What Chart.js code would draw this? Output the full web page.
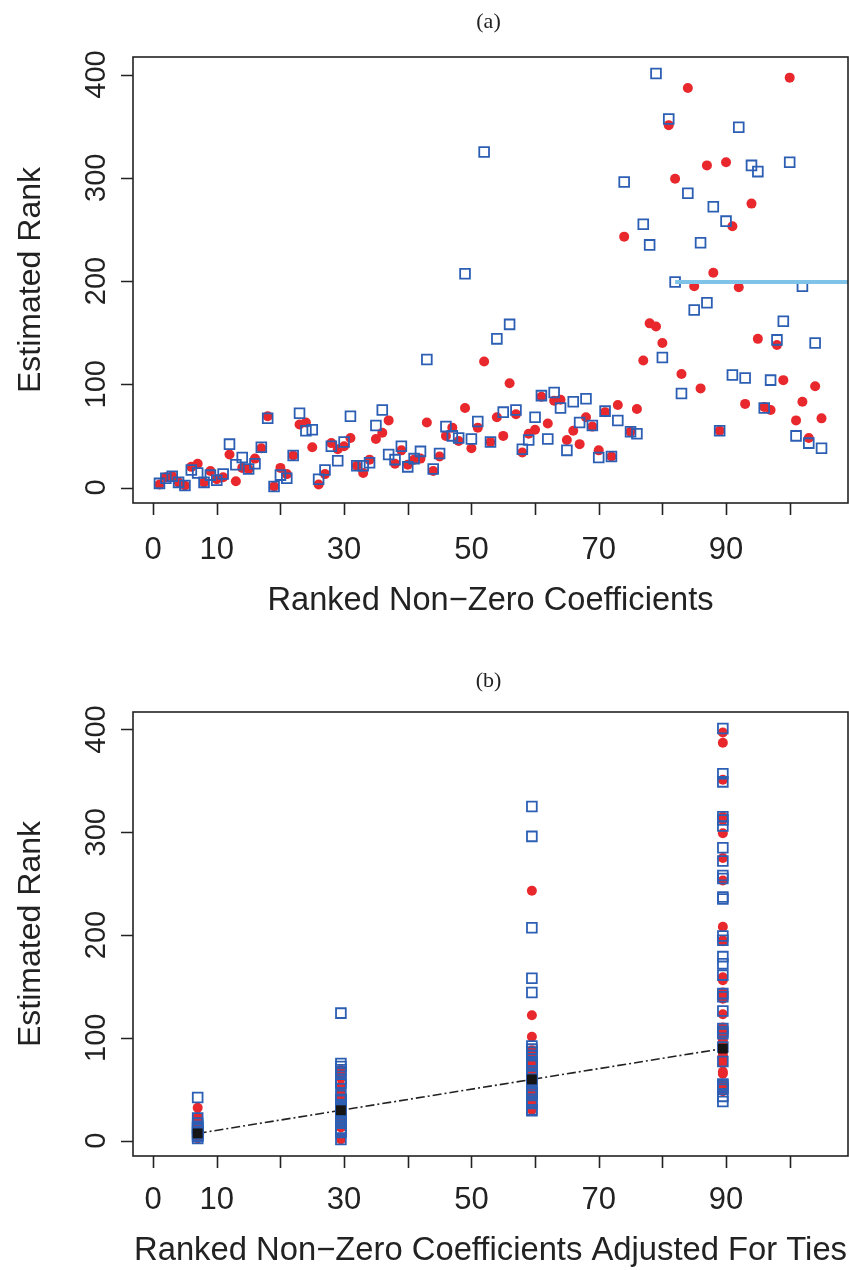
<!DOCTYPE html>
<html>
<head>
<meta charset="utf-8">
<script src="https://cdn.jsdelivr.net/npm/chart.js@4.4.0/dist/chart.umd.min.js"></script>
<style>
  html, body { margin: 0; padding: 0; background: #fff; }
  #wrap { position: relative; width: 849px; height: 1270px; overflow: hidden; }
  .panel { position: absolute; left: 0; width: 849px; }
  #pa { top: 0; height: 640px; }
  #pb { top: 640px; height: 630px; }
</style>
</head>
<body>
<div id="wrap">
  <div class="panel" id="pa"><canvas id="chartA" width="849" height="640"></canvas></div>
  <div class="panel" id="pb"><canvas id="chartB" width="849" height="630"></canvas></div>
</div>
<script>
// true rank of each non-zero coefficient
const ranks = [1, 2, 3, 4, 5, 6, 7, 8, 9, 10, 11, 12, 13, 14, 15, 16, 17, 18, 19, 20,
  21, 22, 23, 24, 25, 26, 27, 28, 29, 30, 31, 32, 33, 34, 35, 36, 37, 38, 39, 40,
  41, 42, 43, 44, 45, 46, 47, 48, 49, 50, 51, 52, 53, 54, 55, 56, 57, 58, 59, 60,
  61, 62, 63, 64, 65, 66, 67, 68, 69, 70, 71, 72, 73, 74, 75, 76, 77, 78, 79, 80,
  81, 82, 83, 84, 85, 86, 87, 88, 89, 90, 91, 92, 93, 94, 95, 96, 97, 98, 99, 100,
  101, 102, 103, 104, 105];

// estimated rank, red filled circles
const redRank = [3, 10, 11, 5, 2, 20, 23, 5, 16, 8, 10, 32, 6, 19, 18, 28, 38, 69, 1, 19,
  13, 31, 61, 63, 39, 3, 13, 43, 37, 40, 48, 21, 14, 27, 47, 53, 65, 23, 36, 22,
  27, 28, 63, 16, 30, 50, 58, 45, 77, 38, 58, 122, 44, 68, 50, 101, 71, 34, 52, 56,
  88, 62, 84, 85, 46, 55, 42, 68, 59, 36, 73, 30, 80, 243, 54, 76, 123, 159, 156, 140,
  351, 299, 110, 387, 195, 96, 312, 208, 55, 315, 253, 194, 81, 275, 144, 78, 75, 138, 104, 397,
  65, 83, 48, 98, 67];

// estimated rank, blue open squares
const blueRank = [4, 9, 11, 5, 2, 17, 14, 5, 12, 7, 13, 42, 22, 29, 18, 23, 39, 67, 1, 12,
  9, 31, 72, 55, 56, 8, 17, 40, 26, 44, 69, 21, 21, 24, 60, 75, 32, 27, 40, 20,
  28, 35, 124, 18, 33, 59, 50, 48, 207, 47, 64, 325, 44, 144, 73, 158, 75, 37, 46, 68,
  89, 47, 92, 77, 36, 83, 63, 86, 60, 29, 74, 30, 65, 296, 54, 52, 255, 235, 401, 126,
  357, 199, 91, 285, 172, 237, 179, 272, 55, 258, 109, 349, 106, 312, 306, 77, 104, 143, 161, 315,
  50, 195, 43, 140, 38];

// tie groups: last rank in each group and its adjusted (average) rank
const tieUpper = [13, 45, 74, 105];
const tieX = [7, 29.5, 59.5, 89.5];
const tieY = [7, 29.5, 59.5, 89.5];

// light blue band in panel (a)
const bandX = [82, 109.16];
const bandY = [199, 199];

const xTicks = [0, 10, 20, 30, 40, 50, 60, 70, 80, 90, 100];
const xTickLabels = [0, 10, 30, 50, 70, 90];
const yTicks = [0, 100, 200, 300, 400];

const RED = '#e8282c';
const BLUE = '#2c5fb4';
const FONT = '"Liberation Sans", Arial, Helvetica, sans-serif';

function tieOf(r) {
  for (let i = 0; i < tieUpper.length; i++) {
    if (r <= tieUpper[i]) return tieX[i];
  }
  return tieX[tieX.length - 1];
}

function pts(xs, ys) {
  return xs.map((x, i) => ({ x: x, y: ys[i] }));
}

function drawText(ctx, text, x, y, size, width, rotate) {
  ctx.save();
  ctx.translate(x, y);
  if (rotate) ctx.rotate(-Math.PI / 2);
  ctx.font = size + 'px ' + FONT;
  if (width) {
    const w = ctx.measureText(text).width;
    ctx.scale(width / w, 1);
  }
  ctx.fillText(text, 0, 0);
  ctx.restore();
}

// R style box, ticks and labels
const rAxes = {
  id: 'rAxes',
  afterDraw(chart, args, o) {
    const ctx = chart.ctx;
    const a = chart.chartArea;
    const xs = chart.scales.x, ys = chart.scales.y;
    ctx.save();
    ctx.strokeStyle = '#222';
    ctx.lineWidth = 1.6;
    ctx.strokeRect(a.left, a.top, a.right - a.left, a.bottom - a.top);
    ctx.beginPath();
    xTicks.forEach(v => {
      const px = Math.round(xs.getPixelForValue(v)) + 0.5;
      ctx.moveTo(px, a.bottom);
      ctx.lineTo(px, a.bottom + 12);
    });
    yTicks.forEach(v => {
      const py = Math.round(ys.getPixelForValue(v)) + 0.5;
      ctx.moveTo(a.left, py);
      ctx.lineTo(a.left - 12, py);
    });
    ctx.stroke();

    ctx.fillStyle = '#222';
    ctx.textAlign = 'center';
    ctx.textBaseline = 'middle';
    xTickLabels.forEach(v => {
      drawText(ctx, String(v), xs.getPixelForValue(v), o.xLabelY, 31, 0, false);
    });
    yTicks.forEach(v => {
      drawText(ctx, String(v), o.yLabelX, ys.getPixelForValue(v), 29, 0, true);
    });
    const cx = (a.left + a.right) / 2;
    const cy = (a.top + a.bottom) / 2;
    drawText(ctx, o.xTitle, cx, o.xTitleY, 33, o.xTitleW, false);
    drawText(ctx, 'Estimated Rank', o.yTitleX, cy, 32, 226, true);

    ctx.font = '22px "Liberation Serif", "Times New Roman", serif';
    ctx.fillText(o.panel, cx - 2, o.panelY);
    ctx.restore();
  }
};

const scalesCfg = {
  x: { type: 'linear', display: false, min: -3.16, max: 109.16 },
  y: { type: 'linear', display: false, min: -15, max: 417 }
};

const blueStyle = {
  type: 'scatter',
  pointStyle: 'rect',
  pointRadius: 6.9,
  backgroundColor: 'rgba(0,0,0,0)',
  borderColor: BLUE,
  borderWidth: 1.8,
  order: 1
};
const redStyle = {
  type: 'scatter',
  pointStyle: 'circle',
  pointRadius: 5,
  backgroundColor: RED,
  borderColor: RED,
  borderWidth: 0,
  order: 2
};

new Chart(document.getElementById('chartA'), {
  type: 'scatter',
  data: {
    datasets: [
      Object.assign({ data: pts(ranks, blueRank) }, blueStyle),
      Object.assign({ data: pts(ranks, redRank) }, redStyle),
      {
        type: 'line',
        data: pts(bandX, bandY),
        borderColor: '#7fc4e8',
        borderWidth: 4,
        pointRadius: 0,
        order: 0
      }
    ]
  },
  options: {
    responsive: false,
    animation: false,
    devicePixelRatio: 1,
    layout: { autoPadding: false, padding: { left: 133, right: 1, top: 57, bottom: 137 } },
    scales: scalesCfg,
    plugins: {
      legend: { display: false },
      tooltip: { enabled: false },
      rAxes: {
        panel: '(a)', panelY: 22,
        xLabelY: 550, xTitleY: 601, xTitle: 'Ranked Non\u2212Zero Coefficients', xTitleW: 446,
        yLabelX: 97, yTitleX: 31
      }
    }
  },
  plugins: [rAxes]
});

new Chart(document.getElementById('chartB'), {
  type: 'scatter',
  data: {
    datasets: [
      {
        type: 'scatter',
        data: pts(tieX, tieY),
        pointStyle: 'rect',
        pointRadius: 7,
        backgroundColor: '#151515',
        borderWidth: 0,
        order: 0
      },
      Object.assign({ data: pts(ranks.map(tieOf), blueRank) }, blueStyle),
      Object.assign({ data: pts(ranks.map(tieOf), redRank) }, redStyle),
      {
        type: 'line',
        data: pts(tieX, tieY),
        borderColor: '#222',
        borderWidth: 1.6,
        borderDash: [9, 3, 2, 3],
        pointRadius: 0,
        order: 3
      }
    ]
  },
  options: {
    responsive: false,
    animation: false,
    devicePixelRatio: 1,
    layout: { autoPadding: false, padding: { left: 133, right: 1, top: 72, bottom: 114 } },
    scales: scalesCfg,
    plugins: {
      legend: { display: false },
      tooltip: { enabled: false },
      rAxes: {
        panel: '(b)', panelY: 41,
        xLabelY: 560, xTitleY: 611, xTitle: 'Ranked Non\u2212Zero Coefficients Adjusted For Ties', xTitleW: 713,
        yLabelX: 97, yTitleX: 31
      }
    }
  },
  plugins: [rAxes]
});
</script>
</body>
</html>
